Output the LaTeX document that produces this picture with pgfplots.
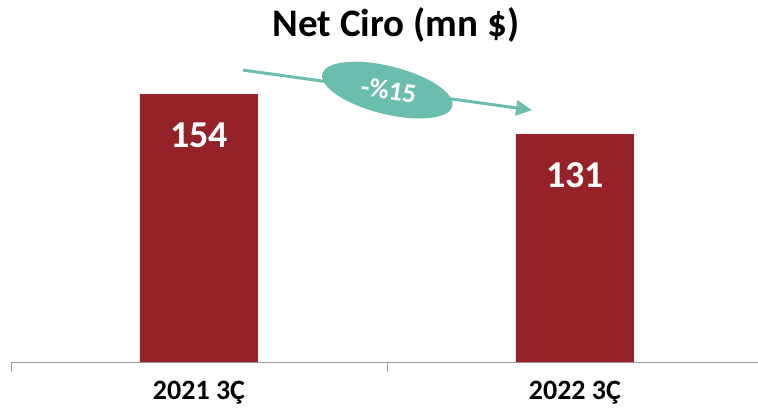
\documentclass[border=0pt]{standalone}
\usepackage{pgfplots}
\pgfplotsset{compat=1.18}
\usepackage{fontspec}
\setmainfont{Carlito}
\usetikzlibrary{arrows.meta}
\definecolor{barred}{RGB}{149,33,41}
\definecolor{teal2}{RGB}{107,190,174}
\begin{document}
\begin{tikzpicture}
\useasboundingbox (0,0) rectangle (758bp,420bp);
\begin{axis}[
  at={(11bp,58bp)}, anchor=south west,
  scale only axis, width=747bp, height=302bp,
  xmin=-0.5, xmax=1.487, ymin=0, ymax=173.6,
  axis x line=bottom, axis y line=none,
  x axis line style={-, draw=gray!80, line width=0.8bp},
  xtick={0,1}, xticklabels={2021 3Ç,2022 3Ç},
  major tick length=0pt,
  xticklabel style={anchor=center, yshift=-31bp, font=\fontsize{28bp}{32bp}\selectfont\bfseries},
  extra x ticks={-0.5,0.5},
  extra x tick labels={},
  extra x tick style={major tick length=10bp, tick align=outside, tick style={draw=gray!80, line width=0.8bp}},
  ybar, bar width=118bp,
  nodes near coords,
  /pgf/number format/assume math mode=true,
  nodes near coords style={anchor=center, yshift=-41bp, text=white, font=\fontsize{38bp}{44bp}\selectfont\bfseries},
  clip=false,
]
\addplot[fill=barred, draw=none] coordinates {(0,154) (1,131)};
\draw[teal2, line width=3bp, -{Triangle[length=16bp,width=15bp]}] (axis cs:0.117,167.8) -- (axis cs:0.886,144.8);
\fill[teal2] (axis cs:0.501,156.3) ellipse[x radius=67bp, y radius=24bp, rotate=-14];
\node[text=white, rotate=-8, font=\fontsize{27bp}{30bp}\selectfont\bfseries] at (axis cs:0.505,156.3) {-\%15};
\end{axis}
\node[font=\fontsize{39bp}{45bp}\selectfont\bfseries] at (396bp,395bp) {Net Ciro (mn \$)};
\end{tikzpicture}
\end{document}
